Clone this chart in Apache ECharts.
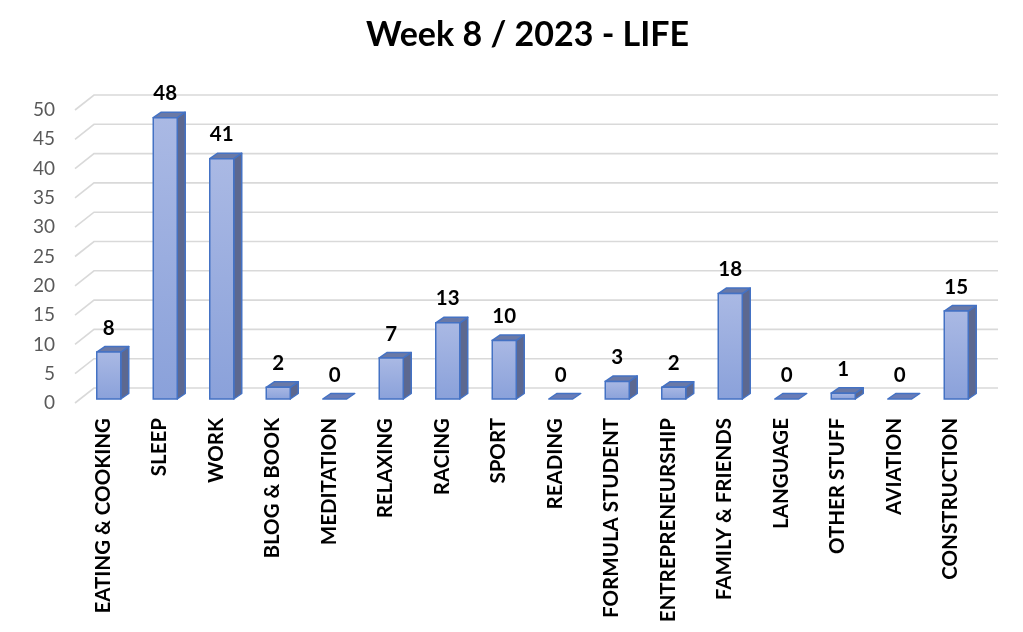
<!DOCTYPE html>
<html>
<head>
<meta charset="utf-8">
<script src="https://cdn.jsdelivr.net/npm/echarts@6/dist/echarts.min.js"></script>
<style>
html,body{margin:0;padding:0;background:#fff;}
#chart{width:1023px;height:632px;}
</style>
</head>
<body>
<div id="chart"></div>
<script>
const titleText = 'Week 8 / 2023 - LIFE';
const categories = ['EATING & COOKING','SLEEP','WORK','BLOG & BOOK','MEDITATION','RELAXING','RACING','SPORT','READING','FORMULA STUDENT','ENTREPRENEURSHIP','FAMILY & FRIENDS','LANGUAGE','OTHER STUFF','AVIATION','CONSTRUCTION'];
const values = [8,48,41,2,0,7,13,10,0,3,2,18,0,1,0,15];
const yTicks = [0,5,10,15,20,25,30,35,40,45,50];

const FONT = 'Lato, "Open Sans", sans-serif';
// 3D geometry (pixels)
const FLOOR_DX = 19, FLOOR_DY = -15;
const BAR_OFF_X = 5.5, BAR_OFF_Y = -4;
const BAR_HALF = 12, BAR_DX = 8, BAR_DY = -5.5;

const chart = echarts.init(document.getElementById('chart'), null, {renderer:'canvas'});

const option = {
  backgroundColor:'#ffffff',
  animation:false,
  title:{
    text:titleText, left:361, top:13,
    textStyle:{fontFamily:FONT, fontSize:34, fontWeight:'bold', color:'#000'}
  },
  grid:{left:75, right:44, top:110, bottom:229, containLabel:false},
  xAxis:{
    type:'category', data:categories,
    axisLine:{show:false}, axisTick:{show:false},
    axisLabel:{rotate:90, interval:0, margin:15, fontFamily:FONT, fontWeight:'bold', fontSize:20.5, color:'#000'},
    splitLine:{show:false}
  },
  yAxis:{
    type:'value', min:0, max:50, interval:5,
    axisLine:{show:false}, axisTick:{show:false},
    axisLabel:{margin:20, fontFamily:FONT, fontSize:19, color:'#595959'},
    splitLine:{show:false}
  },
  series:[
    {
      type:'custom', z:1, silent:true,
      data: yTicks.map(v => [0, v]),
      renderItem:function(params, api){
        const cs = params.coordSys;
        const y = api.coord([0, api.value(1)])[1];
        return {
          type:'polyline',
          shape:{points:[[cs.x, y],[cs.x+FLOOR_DX, y+FLOOR_DY],[cs.x+cs.width+FLOOR_DX, y+FLOOR_DY]]},
          style:{stroke:'#d9d9d9', lineWidth:1.6, fill:null}
        };
      }
    },
    {
      type:'custom', z:5, silent:true,
      data: values.map((v,i) => [i, v]),
      renderItem:function(params, api){
        const i = api.value(0), v = api.value(1);
        const base = api.coord([i, 0]);
        const top = api.coord([i, v]);
        const cx = base[0] + BAR_OFF_X;
        const by = base[1] + BAR_OFF_Y;
        const ty = top[1] + BAR_OFF_Y;
        const l = cx - BAR_HALF, r = cx + BAR_HALF;
        const children = [];
        const stroke = '#4472c4';
        if (v > 0) {
          children.push({
            type:'polygon',
            shape:{points:[[r,by],[r+BAR_DX,by+BAR_DY],[r+BAR_DX,ty+BAR_DY],[r,ty]]},
            style:{fill:'#5c6890', stroke:stroke, lineWidth:1.5, lineJoin:'round'}
          });
          children.push({
            type:'polygon',
            shape:{points:[[l,ty],[l+BAR_DX,ty+BAR_DY],[r+BAR_DX,ty+BAR_DY],[r,ty]]},
            style:{fill:'#6a79a6', stroke:stroke, lineWidth:1.5, lineJoin:'round'}
          });
          children.push({
            type:'rect',
            shape:{x:l, y:ty, width:r-l, height:by-ty},
            style:{
              fill:{type:'linear', x:0, y:0, x2:0, y2:1, global:false,
                colorStops:[{offset:0,color:'#aab9e4'},{offset:1,color:'#8aa1da'}]},
              stroke:stroke, lineWidth:1.5
            }
          });
        } else {
          children.push({
            type:'polygon',
            shape:{points:[[l,by],[l+BAR_DX,by+BAR_DY],[r+BAR_DX,by+BAR_DY],[r,by]]},
            style:{fill:'#6a7cb6', stroke:stroke, lineWidth:1.5, lineJoin:'round'}
          });
        }
        children.push({
          type:'text',
          style:{
            text:String(v), x:cx, y:ty + BAR_DY - 8,
            align:'center', verticalAlign:'bottom',
            fontFamily:FONT, fontWeight:'bold', fontSize:20.5, fill:'#000'
          }
        });
        return {type:'group', children:children};
      }
    }
  ]
};
chart.setOption(option);
</script>
</body>
</html>
